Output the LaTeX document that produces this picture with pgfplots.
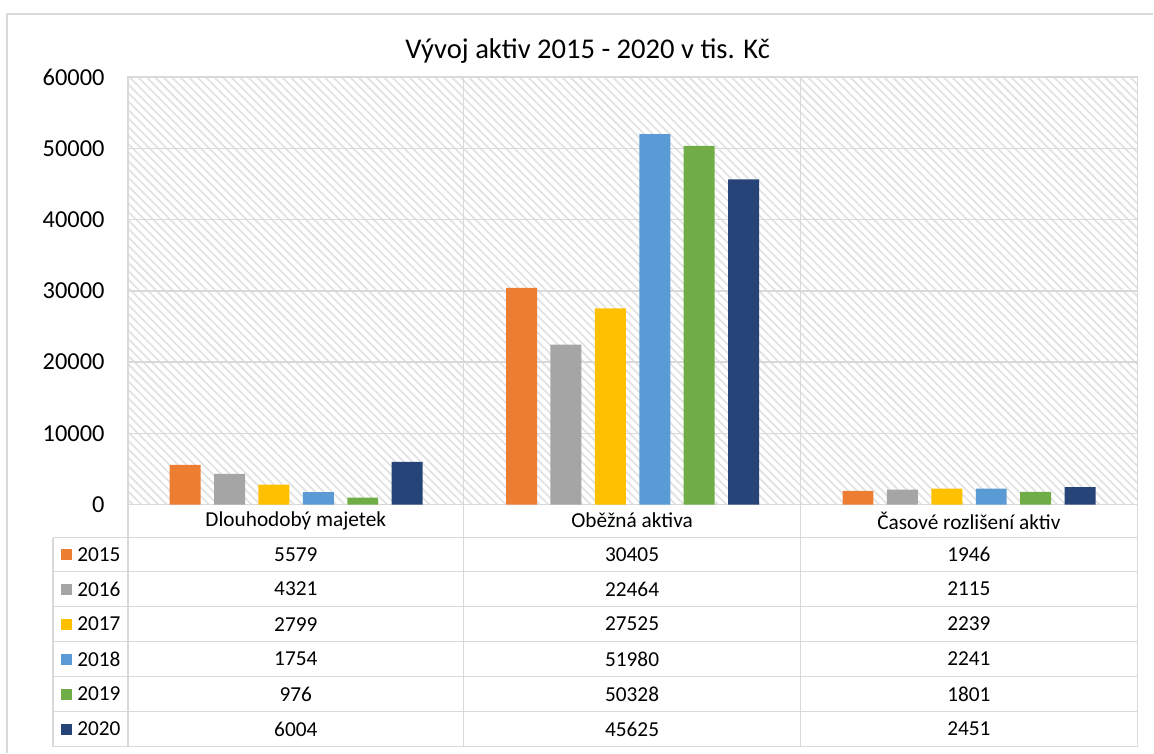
\documentclass[border=0pt]{standalone}
\usepackage{pgfplots}
\pgfplotsset{compat=1.18}
\usepackage{fontspec}
\setmainfont{Carlito}
\usetikzlibrary{patterns.meta}
\definecolor{c15}{HTML}{ED7D31}
\definecolor{c16}{HTML}{A5A5A5}
\definecolor{c17}{HTML}{FFC000}
\definecolor{c18}{HTML}{5B9BD5}
\definecolor{c19}{HTML}{70AD47}
\definecolor{c20}{HTML}{264478}
\definecolor{gridc}{HTML}{D9D9D9}
\definecolor{hatch}{HTML}{E2E2E2}
\begin{document}
\begin{tikzpicture}
\path (0,0) rectangle (577pt,-376.5pt);
\begin{axis}[
  at={(64pt,-252.5pt)}, anchor=south west, scale only axis,
  width=505pt, height=214pt,
  xmin=-0.5, xmax=2.5, ymin=0, ymax=60000,
  xtick=\empty, ytick={0,10000,...,60000},
  scaled y ticks=false,
  ymajorgrids, major grid style={gridc, line width=0.75pt},
  axis line style={gridc, line width=0.75pt},
  major tick length=0pt,
  yticklabel style={font=\fontsize{12.2}{13}\selectfont, anchor=east, inner sep=0pt, xshift=-11.5pt},
  /pgf/number format/.cd, set thousands separator={}, assume math mode=true,
  /pgfplots/.cd,
  axis background/.style={pattern={Lines[angle=-45,distance=3pt,line width=0.9pt]}, pattern color=hatch},
  ybar, bar width=0.092,
  clip=false,
]
\addplot[fill=c15, draw=none, bar shift=-0.33] coordinates {(0,5579) (1,30405) (2,1946)};
\addplot[fill=c16, draw=none, bar shift=-0.198] coordinates {(0,4321) (1,22464) (2,2115)};
\addplot[fill=c17, draw=none, bar shift=-0.066] coordinates {(0,2799) (1,27525) (2,2239)};
\addplot[fill=c18, draw=none, bar shift=0.066] coordinates {(0,1754) (1,51980) (2,2241)};
\addplot[fill=c19, draw=none, bar shift=0.198] coordinates {(0,976) (1,50328) (2,1801)};
\addplot[fill=c20, draw=none, bar shift=0.33] coordinates {(0,6004) (1,45625) (2,2451)};
\end{axis}
\begin{scope}[x=0.5pt,y=-0.5pt]
\begin{scope}[draw=gridc, line width=0.75pt]
\draw (7,753) -- (7,14) -- (1154,14);
\foreach \yy in {538,572,607,642,677,712,747} \draw (53,\yy) -- (1138,\yy);
\draw (53,538) -- (53,747);
\foreach \xx in {128,464,801,1138} \draw (\xx,77) -- (\xx,747);
\end{scope}
\node[font=\fontsize{14.3}{16}\selectfont] at (588,51) {Vývoj aktiv 2015 - 2020 v tis. Kč};
\begin{scope}[every node/.style={font=\fontsize{10.65}{12}\selectfont}]
\node at (296,521) {Dlouhodobý majetek};
\node at (632.5,521) {Oběžná aktiva};
\node at (969.5,521) {Časové rozlišení aktiv};
\foreach \yy/\yr/\col/\a/\b/\c in {555/2015/c15/5579/30405/1946, 589.5/2016/c16/4321/22464/2115, 624.5/2017/c17/2799/27525/2239, 659.5/2018/c18/1754/51980/2241, 694.5/2019/c19/976/50328/1801, 729.5/2020/c20/6004/45625/2451}{
  \fill[\col] (61,\yy-5.5) rectangle (72,\yy+5.5);
  \node[anchor=west, inner xsep=0pt] at (77,\yy) {\yr};
  \node at (296,\yy) {\a};
  \node at (632.5,\yy) {\b};
  \node at (969.5,\yy) {\c};
}
\end{scope}
\end{scope}
\end{tikzpicture}
\end{document}
